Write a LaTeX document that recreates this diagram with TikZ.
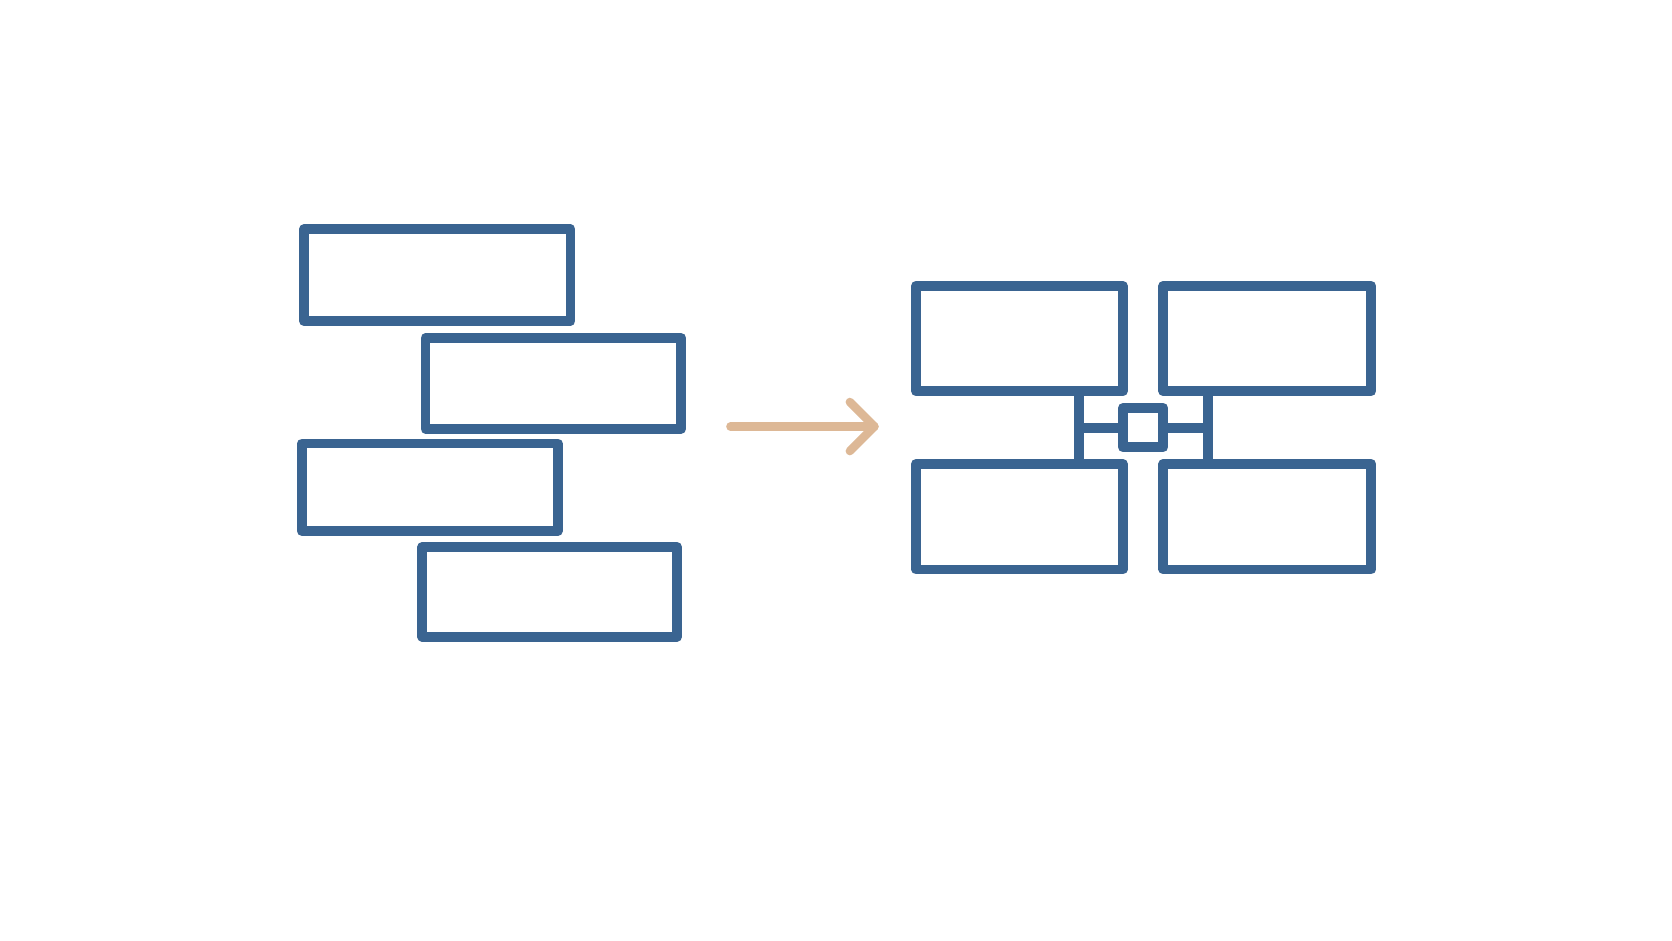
\documentclass[tikz,border=0pt]{standalone}
\begin{document}
\begin{tikzpicture}[x=0.5pt,y=-0.5pt,
  box/.style={line width=4.6pt, draw=bx, line join=round, line cap=round, inner sep=0, outer sep=0, anchor=north west},
  con/.style={line width=4.6pt, draw=bx},
  arr/.style={line width=4pt, draw=ar, line cap=round, line join=round}]
\definecolor{bx}{HTML}{3A6491}
\definecolor{ar}{HTML}{DDB896}
\useasboundingbox (0,0) rectangle (1568,882);
\node[box, minimum width=125pt, minimum height=43pt] (l1) at (285,215) {};
\node[box, minimum width=120pt, minimum height=42.5pt] (l2) at (399,317) {};
\node[box, minimum width=120pt, minimum height=41pt] (l3) at (283,416) {};
\node[box, minimum width=119.5pt, minimum height=42pt] (l4) at (396,513) {};
\coordinate (a0) at (685,400);
\coordinate (a1) at (820,400);
\coordinate (h1) at (797,377);
\coordinate (h2) at (797,423);
\draw[arr] (a0) -- (a1);
\draw[arr] (h1) -- (a1) -- (h2);
\node[box, minimum width=97pt, minimum height=49.5pt] (tl) at (859,268) {};
\node[box, minimum width=97.5pt, minimum height=49.5pt] (tr) at (1091,268) {};
\node[box, minimum width=97pt, minimum height=49.5pt] (bl) at (859,435) {};
\node[box, minimum width=97.5pt, minimum height=49.5pt] (br) at (1091,435) {};
\node[box, anchor=center, minimum width=19pt, minimum height=18.5pt] (c) at (1072,401) {};
\coordinate (v1t) at (1012,367); \coordinate (v1b) at (1012,435);
\coordinate (v2t) at (1133,367); \coordinate (v2b) at (1133,435);
\draw[con] (v1t) -- (v1b);
\draw[con] (v2t) -- (v2b);
\draw[con] (v1t |- c.west) -- (c.west);
\draw[con] (c.east) -- (v2t |- c.east);
\end{tikzpicture}
\end{document}
